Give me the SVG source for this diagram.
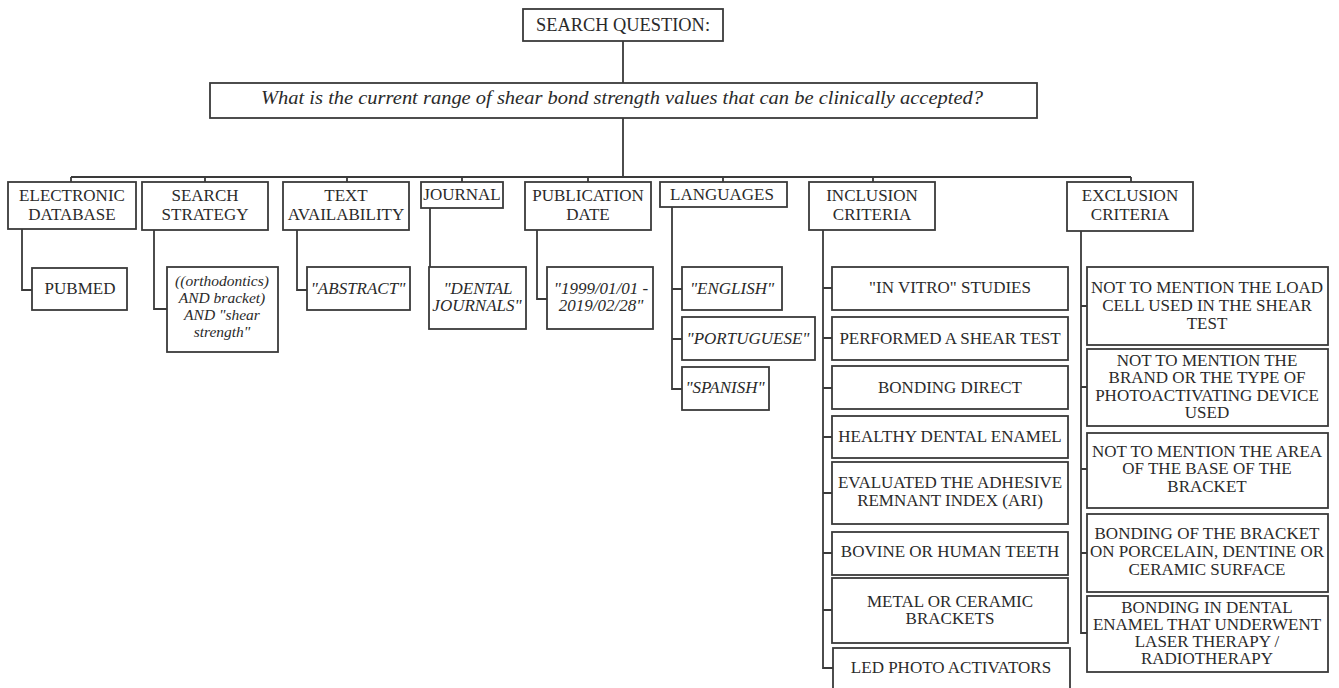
<svg xmlns="http://www.w3.org/2000/svg" width="1339" height="688" viewBox="0 0 1339 688">
<style>
rect{fill:#fff;stroke:#3a3a3a;stroke-width:1.8}
text{font-family:"Liberation Serif","Times New Roman",serif;font-size:17px;fill:#2a2a2a;text-anchor:middle}
.i{font-style:italic}
.s{font-size:15.5px;font-style:italic}
.q{font-size:19px;font-style:italic}
.h{font-size:18px}
#connectors path{fill:none;stroke:#3a3a3a;stroke-width:1.8}
</style>
<rect x="0" y="0" width="1339" height="688" style="fill:#fff;stroke:none"/>
<g id="connectors">
<path d="M623 41V83M623 118V177M71 177H1131M71 177V182M205 177V182M347 177V182M462 177V182M588 177V182M723 177V182M873 177V182M1131 177V182"/>
<path d="M22 229V290H32M154 230V309H167M297 230V290H307M430 208V267M537 230V299H547"/>
<path d="M672 207V389H682M672 289H682M672 339H682"/>
<path d="M823 230V668H833M823 288H832M823 338H832M823 388H832M823 437H832M823 493H832M823 553H832M823 610H832"/>
<path d="M1081 231V633H1087M1081 306H1087M1081 387H1087M1081 469H1087M1081 553H1087"/>
</g>
<g id="search-question"><rect x="523" y="9" width="200" height="32"/><text class="h" x="623" y="31" textLength="174" lengthAdjust="spacingAndGlyphs">SEARCH QUESTION:</text></g>
<g id="question"><rect x="210" y="83" width="827" height="35"/><text class="q" x="622" y="104" textLength="722" lengthAdjust="spacingAndGlyphs">What is the current range of shear bond strength values that can be clinically accepted?</text></g>
<g id="electronic-database"><rect x="8" y="182" width="128" height="47"/><text x="72" y="201">ELECTRONIC</text><text x="72" y="220">DATABASE</text></g>
<g id="search-strategy"><rect x="142" y="182" width="126" height="48"/><text x="205" y="201">SEARCH</text><text x="205" y="220">STRATEGY</text></g>
<g id="text-availability"><rect x="283" y="182" width="126" height="48"/><text x="346" y="201">TEXT</text><text x="346" y="220">AVAILABILITY</text></g>
<g id="journal"><rect x="421" y="182" width="82" height="26"/><text x="462" y="200">JOURNAL</text></g>
<g id="publication-date"><rect x="525" y="182" width="126" height="48"/><text x="588" y="201">PUBLICATION</text><text x="588" y="220">DATE</text></g>
<g id="languages"><rect x="660" y="182" width="127" height="25"/><text x="722" y="200">LANGUAGES</text></g>
<g id="inclusion-criteria"><rect x="809" y="182" width="126" height="48"/><text x="872" y="201">INCLUSION</text><text x="872" y="220">CRITERIA</text></g>
<g id="exclusion-criteria"><rect x="1067" y="182" width="126" height="49"/><text x="1130" y="201">EXCLUSION</text><text x="1130" y="220">CRITERIA</text></g>
<g id="pubmed"><rect x="32" y="268" width="95" height="42"/><text x="80" y="294">PUBMED</text></g>
<g id="strategy-terms"><rect x="167" y="267" width="111" height="85"/><text class="s" x="222" y="286">((orthodontics)</text><text class="s" x="222" y="303">AND bracket)</text><text class="s" x="222" y="320">AND "shear</text><text class="s" x="222" y="337">strength"</text></g>
<g id="abstract"><rect x="307" y="267" width="103" height="43"/><text class="i" x="358" y="294">"ABSTRACT"</text></g>
<g id="dental-journals"><rect x="429" y="267" width="97" height="62"/><text class="i" x="478" y="294">"DENTAL</text><text class="i" x="477" y="311">JOURNALS"</text></g>
<g id="dates"><rect x="547" y="267" width="106" height="62"/><text class="i" x="601" y="294">"1999/01/01 -</text><text class="i" x="601" y="311">2019/02/28"</text></g>
<g id="english"><rect x="682" y="267" width="100" height="43"/><text class="i" x="732" y="294">"ENGLISH"</text></g>
<g id="portuguese"><rect x="682" y="317" width="133" height="43"/><text class="i" x="748" y="344">"PORTUGUESE"</text></g>
<g id="spanish"><rect x="682" y="367" width="87" height="43"/><text class="i" x="725" y="393">"SPANISH"</text></g>
<g id="inc-1"><rect x="832" y="267" width="236" height="43"/><text x="950" y="293">"IN VITRO" STUDIES</text></g>
<g id="inc-2"><rect x="832" y="317" width="236" height="43"/><text x="950" y="344">PERFORMED A SHEAR TEST</text></g>
<g id="inc-3"><rect x="832" y="366" width="236" height="43"/><text x="950" y="393">BONDING DIRECT</text></g>
<g id="inc-4"><rect x="832" y="416" width="236" height="42"/><text x="950" y="442">HEALTHY DENTAL ENAMEL</text></g>
<g id="inc-5"><rect x="832" y="462" width="236" height="62"/><text x="950" y="488">EVALUATED THE ADHESIVE</text><text x="950" y="506">REMNANT INDEX (ARI)</text></g>
<g id="inc-6"><rect x="832" y="532" width="236" height="43"/><text x="950" y="557">BOVINE OR HUMAN TEETH</text></g>
<g id="inc-7"><rect x="832" y="578" width="236" height="65"/><text x="950" y="607">METAL OR CERAMIC</text><text x="950" y="624">BRACKETS</text></g>
<g id="inc-8"><rect x="833" y="648" width="237" height="44"/><text x="951" y="673">LED PHOTO ACTIVATORS</text></g>
<g id="exc-1"><rect x="1087" y="267" width="241" height="78"/><text x="1207" y="293">NOT TO MENTION THE LOAD</text><text x="1207" y="311">CELL USED IN THE SHEAR</text><text x="1207" y="329">TEST</text></g>
<g id="exc-2"><rect x="1087" y="349" width="241" height="77"/><text x="1207" y="366">NOT TO MENTION THE</text><text x="1207" y="383">BRAND OR THE TYPE OF</text><text x="1207" y="401">PHOTOACTIVATING DEVICE</text><text x="1207" y="418">USED</text></g>
<g id="exc-3"><rect x="1087" y="433" width="241" height="75"/><text x="1207" y="457">NOT TO MENTION THE AREA</text><text x="1207" y="474">OF THE BASE OF THE</text><text x="1207" y="492">BRACKET</text></g>
<g id="exc-4"><rect x="1087" y="514" width="241" height="78"/><text x="1207" y="539">BONDING OF THE BRACKET</text><text x="1207" y="557">ON PORCELAIN, DENTINE OR</text><text x="1207" y="575">CERAMIC SURFACE</text></g>
<g id="exc-5"><rect x="1087" y="596" width="241" height="76"/><text x="1207" y="613">BONDING IN DENTAL</text><text x="1207" y="630">ENAMEL THAT UNDERWENT</text><text x="1207" y="647">LASER THERAPY /</text><text x="1207" y="664">RADIOTHERAPY</text></g>
</svg>
